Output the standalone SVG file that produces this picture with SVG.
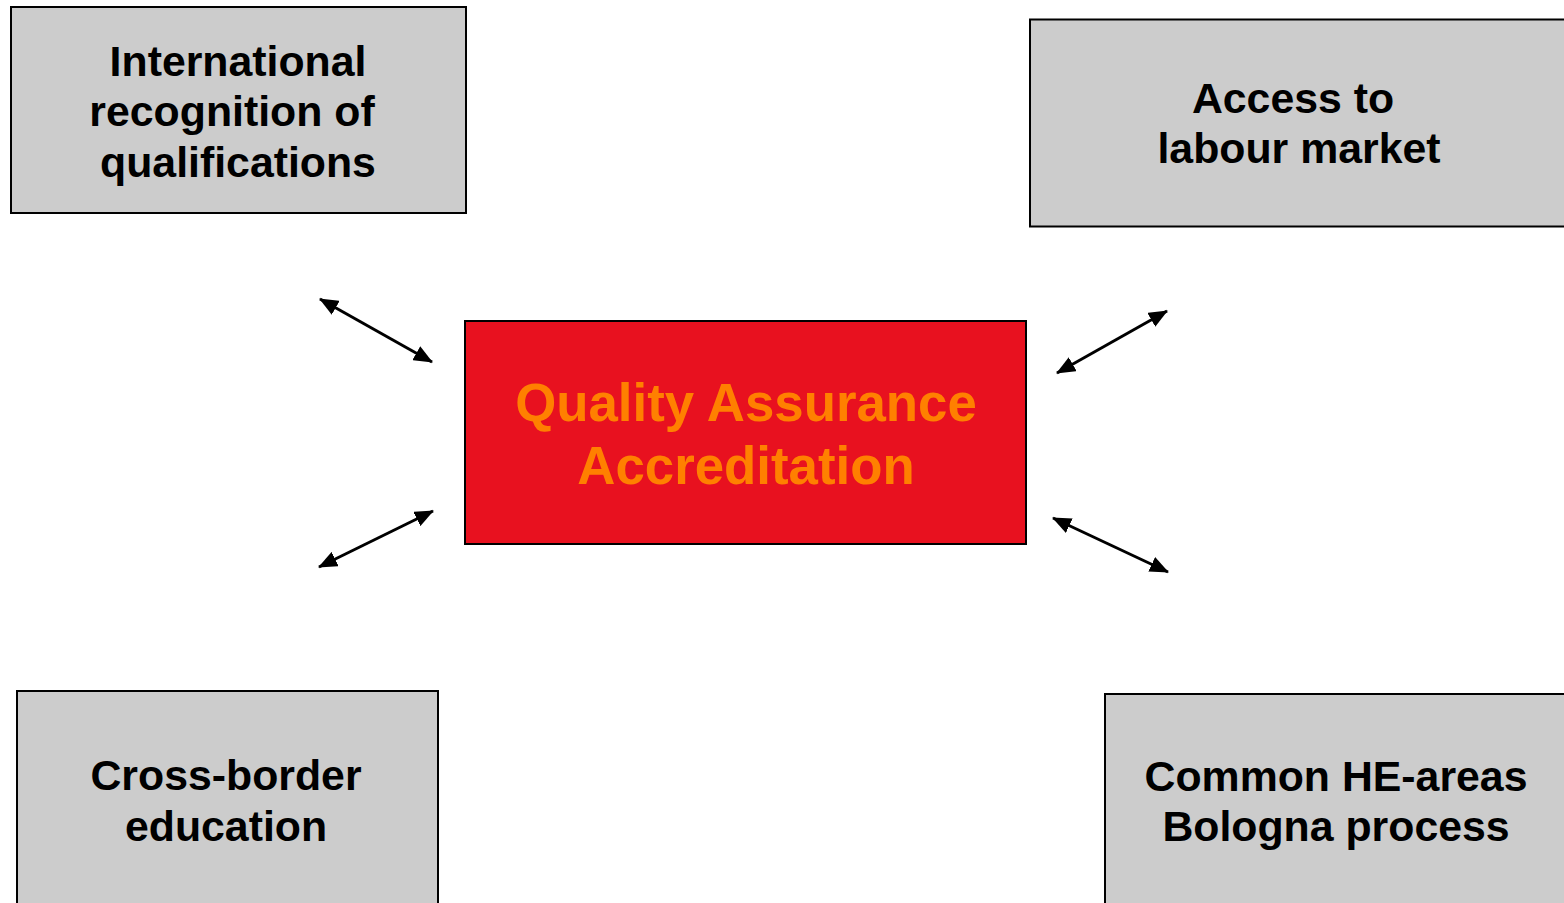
<svg xmlns="http://www.w3.org/2000/svg" width="1564" height="903" viewBox="0 0 1564 903">
  <style>
    .box { fill: #cccccc; stroke: #000000; stroke-width: 2; }
    .core { fill: #e8111f; stroke: #000000; stroke-width: 2; }
    .lbl { font-family: "Liberation Sans", Arial, sans-serif; font-weight: bold; font-size: 42.8px; fill: #000000; text-anchor: middle; }
    .core-lbl { font-family: "Liberation Sans", Arial, sans-serif; font-weight: bold; font-size: 52.8px; fill: #ff8000; text-anchor: middle; }
    .link { stroke: #000000; stroke-width: 3; fill: none; marker-start: url(#tip); marker-end: url(#tip); }
  </style>
  <defs>
    <marker id="tip" viewBox="0 0 19 16" refX="18" refY="8" markerWidth="19" markerHeight="16" markerUnits="userSpaceOnUse" orient="auto-start-reverse">
      <path d="M0,0 L19,8 L0,16 Z" fill="#000000"/>
    </marker>
  </defs>
  <rect width="1564" height="903" fill="#ffffff"/>

  <g id="node-recognition">
    <rect class="box" x="11" y="7" width="455" height="206"/>
    <text class="lbl" x="238" y="76">International</text>
    <text class="lbl" x="232" y="126">recognition of</text>
    <text class="lbl" x="238" y="177">qualifications</text>
  </g>

  <g id="node-labour">
    <rect class="box" x="1030" y="19.5" width="540" height="207"/>
    <text class="lbl" x="1293" y="113">Access to</text>
    <text class="lbl" x="1299" y="163">labour market</text>
  </g>

  <g id="node-crossborder">
    <rect class="box" x="17" y="691" width="421" height="222"/>
    <text class="lbl" x="226" y="790">Cross-border</text>
    <text class="lbl" x="226" y="841">education</text>
  </g>

  <g id="node-bologna">
    <rect class="box" x="1105" y="694" width="470" height="222"/>
    <text class="lbl" x="1336" y="791">Common HE-areas</text>
    <text class="lbl" x="1336" y="841">Bologna process</text>
  </g>

  <g id="node-qa">
    <rect class="core" x="465" y="321" width="561" height="223"/>
    <text class="core-lbl" x="746" y="421">Quality Assurance</text>
    <text class="core-lbl" x="746" y="484">Accreditation</text>
  </g>

  <g id="connectors">
    <line class="link" x1="320" y1="299" x2="432" y2="362"/>
    <line class="link" x1="319" y1="567" x2="433" y2="511"/>
    <line class="link" x1="1057" y1="373" x2="1167" y2="311"/>
    <line class="link" x1="1053" y1="518" x2="1168" y2="572"/>
  </g>
</svg>
